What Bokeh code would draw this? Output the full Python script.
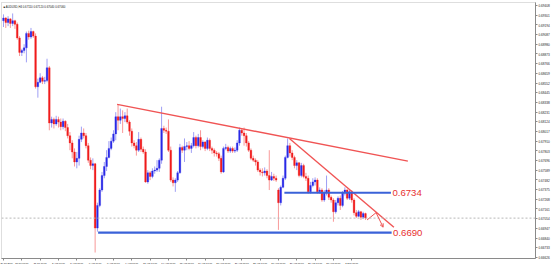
from bokeh.plotting import figure
from bokeh.models import Range1d, FixedTicker, Span, Label, Arrow, OpenHead, NumeralTickFormatter
from bokeh.embed import file_html
from bokeh.resources import INLINE

# ---- data (prices in pips, AUDUSD H4) ----
closes = [6927, 6922, 6926, 6921, 6924, 6920, 6905, 6889, 6891, 6894,
          6910, 6906, 6912, 6907, 6851, 6856, 6861, 6857, 6858, 6872,
          6811, 6815, 6810, 6815, 6812, 6807, 6813, 6806, 6797, 6789,
          6779, 6768, 6772, 6793, 6800, 6797, 6786, 6770, 6764, 6766,
          6695, 6720, 6737, 6753, 6763, 6773, 6783, 6791, 6799, 6818,
          6814, 6818, 6816, 6819, 6812, 6802, 6789, 6786, 6781, 6793,
          6782, 6779, 6746, 6756, 6752, 6758, 6759, 6761, 6770, 6805,
          6803, 6802, 6781, 6748, 6745, 6748, 6756, 6784, 6781, 6785,
          6786, 6783, 6786, 6795, 6786, 6795, 6785, 6790, 6783, 6792,
          6783, 6781, 6778, 6777, 6772, 6757, 6783, 6784, 6780, 6783,
          6780, 6781, 6789, 6803, 6800, 6797, 6789, 6781, 6772, 6770,
          6768, 6759, 6757, 6756, 6758, 6753, 6748, 6752, 6750, 6748,
          6723, 6740, 6750, 6773, 6786, 6778, 6773, 6764, 6767, 6753,
          6764, 6752, 6750, 6735, 6742, 6746, 6748, 6735, 6737, 6726,
          6734, 6737, 6729, 6726, 6713, 6723, 6728, 6720, 6734, 6737,
          6728, 6735, 6726, 6712, 6708, 6713, 6707, 6711, 6706]
highs = [6931, 6928, 6929, 6927, 6932, 6925, 6922, 6907, 6893, 6898,
         6912, 6913, 6916, 6913, 6910, 6860, 6866, 6863, 6862, 6882,
         6874, 6818, 6817, 6819, 6818, 6816, 6816, 6814, 6810, 6801,
         6792, 6783, 6779, 6797, 6807, 6805, 6800, 6789, 6773, 6772,
         6767, 6723, 6739, 6757, 6768, 6781, 6791, 6795, 6803, 6823,
         6832, 6827, 6825, 6823, 6827, 6814, 6805, 6792, 6790, 6801,
         6795, 6785, 6782, 6759, 6758, 6761, 6763, 6770, 6772, 6829,
         6808, 6806, 6815, 6785, 6751, 6750, 6758, 6788, 6786, 6794,
         6790, 6791, 6789, 6801, 6797, 6799, 6803, 6792, 6791, 6795,
         6794, 6785, 6783, 6780, 6779, 6775, 6785, 6788, 6786, 6785,
         6785, 6784, 6792, 6806, 6805, 6806, 6800, 6791, 6783, 6775,
         6772, 6770, 6761, 6761, 6762, 6760, 6781, 6757, 6755, 6753,
         6739, 6742, 6753, 6775, 6794, 6789, 6781, 6775, 6770, 6768,
         6767, 6766, 6756, 6753, 6746, 6750, 6751, 6750, 6740, 6739,
         6737, 6753, 6739, 6731, 6728, 6726, 6730, 6731, 6736, 6740,
         6738, 6737, 6737, 6728, 6715, 6715, 6714, 6713, 6712]
lows = [6917, 6916, 6918, 6916, 6918, 6915, 6903, 6885, 6885, 6888,
        6878, 6903, 6904, 6905, 6849, 6839, 6855, 6854, 6854, 6856,
        6803, 6806, 6805, 6808, 6806, 6803, 6804, 6802, 6794, 6781,
        6772, 6763, 6761, 6764, 6790, 6794, 6783, 6767, 6760, 6759,
        6668, 6691, 6718, 6735, 6750, 6758, 6772, 6781, 6789, 6792,
        6803, 6810, 6800, 6812, 6810, 6797, 6785, 6783, 6775, 6779,
        6779, 6777, 6745, 6744, 6748, 6750, 6755, 6757, 6757, 6766,
        6800, 6799, 6779, 6746, 6741, 6735, 6746, 6755, 6778, 6768,
        6781, 6781, 6778, 6784, 6783, 6784, 6781, 6783, 6780, 6781,
        6780, 6777, 6774, 6774, 6769, 6755, 6756, 6781, 6778, 6778,
        6778, 6778, 6779, 6786, 6797, 6786, 6785, 6779, 6770, 6768,
        6764, 6757, 6753, 6752, 6753, 6750, 6737, 6747, 6747, 6746,
        6693, 6720, 6739, 6748, 6772, 6774, 6770, 6761, 6759, 6751,
        6751, 6750, 6747, 6733, 6733, 6740, 6742, 6733, 6733, 6724,
        6724, 6731, 6726, 6723, 6702, 6711, 6720, 6715, 6718, 6731,
        6726, 6726, 6723, 6709, 6706, 6707, 6704, 6705, 6704]
first_open = 6924
gap_bar = 120
gap_open = 6737

time_tick_bars = [0, 8, 16, 24, 32, 40, 48, 56, 64, 72, 80, 88, 96, 104, 112, 120, 128, 136, 144, 152]
time_labels = ["29 Jul 2019", "30 Jul 08:00", "31 Jul 16:00", "2 Aug 00:00", "5 Aug 08:00",
               "6 Aug 16:00", "8 Aug 00:00", "9 Aug 08:00", "12 Aug 16:00", "14 Aug 00:00",
               "15 Aug 08:00", "16 Aug 16:00", "20 Aug 00:00", "21 Aug 08:00", "22 Aug 16:00",
               "26 Aug 00:00", "27 Aug 08:00", "28 Aug 16:00", "30 Aug 00:00", "2 Sep 08:00"]

price_ticks = [0.69408, 0.69301, 0.69194, 0.69087, 0.68980, 0.68873, 0.68766, 0.68659, 0.68552,
               0.68445, 0.68338, 0.68231, 0.68124, 0.68017, 0.67910, 0.67803, 0.67696, 0.67589,
               0.67482, 0.67375, 0.67268, 0.67161, 0.67054, 0.66947, 0.66840, 0.66733, 0.66626]

current_price = 0.67060
title_text = "AUDUSD,H4  0.67110 0.67120 0.67040 0.67060"

# analyst drawings (bar index, price)
resist_x = [49.6, 176.5]
resist_y = [0.68316, 0.67690]
fall_x = [124.8, 170.4]
fall_y = [0.67940, 0.66960]
level_values = [0.6734, 0.6690]
level_start = [122.6, 41.3]
level_end = [169.1, 169.4]
level_labels = ["0.6734", "0.6690"]
arrow_x = [158.7, 162.6, 165.7]
arrow_y = [0.67040, 0.67120, 0.66960]

# ---- build ----
S = 10000.0
opens = [first_open] + closes[:-1]
opens[gap_bar] = gap_open
n = len(closes)
xs = list(range(n))
o = [v / S for v in opens]
c = [v / S for v in closes]
h = [v / S for v in highs]
l = [v / S for v in lows]

BULL = "#2a2ae6"
BEAR = "#f01c1c"
RED_LINE = "#f05454"
BLUE_LINE = "#3a62d8"

cols = [BULL if cc >= oo else BEAR for oo, cc in zip(o, c)]
tops = [max(a, b) for a, b in zip(o, c)]
bots = [min(a, b) for a, b in zip(o, c)]

p = figure(width=552, height=267, x_range=Range1d(-0.87, 232.2), y_range=Range1d(0.66614, 0.69441),
           output_backend="svg", toolbar_location=None, y_axis_location="right",
           min_border_left=1, min_border_top=2, min_border_right=15, min_border_bottom=8)
p.background_fill_color = "white"
p.border_fill_color = "white"
p.outline_line_color = "#bdbdbd"
p.outline_line_dash = "1 1"
p.xgrid.visible = False
p.ygrid.visible = False

p.segment(xs, h, xs, l, line_color=cols, line_alpha=0.45, line_width=1)
p.vbar(x=xs, width=0.75, top=tops, bottom=bots, fill_color=cols, line_color=cols, line_width=0.3)

p.add_layout(Span(location=current_price, dimension="width", line_color="#b8b8b8",
                  line_dash="2 2", line_width=1))

p.line(resist_x, resist_y, line_color=RED_LINE, line_width=1.4)
p.line(fall_x, fall_y, line_color=RED_LINE, line_width=1.4)
for lv, xs0, xs1, lab in zip(level_values, level_start, level_end, level_labels):
    p.line([xs0, xs1], [lv, lv], line_color=BLUE_LINE, line_width=2.2)
    p.add_layout(Label(x=xs1, y=lv, x_offset=1.5, text=lab, text_color="#e8312f",
                       text_font="Liberation Sans", text_font_size="9.6px",
                       text_baseline="middle", text_align="left"))

p.line(arrow_x[:2], arrow_y[:2], line_color=RED_LINE, line_width=1)
p.add_layout(Arrow(x_start=arrow_x[1], y_start=arrow_y[1], x_end=arrow_x[2], y_end=arrow_y[2],
                   line_color=RED_LINE, line_width=1,
                   end=OpenHead(size=3.5, line_color=RED_LINE, line_width=1)))

# axes
ya = p.yaxis[0]
ya.ticker = FixedTicker(ticks=price_ticks)
ya.formatter = NumeralTickFormatter(format="0.00000")
ya.major_label_text_font = "Liberation Sans"
ya.major_label_text_font_size = "3.1px"
ya.major_label_text_color = "#222222"
ya.major_tick_out = 2
ya.major_tick_in = 0
ya.minor_tick_line_color = None
ya.major_label_standoff = 1
ya.axis_line_color = "#8a8a8a"
ya.major_tick_line_color = "#8a8a8a"

xa = p.xaxis[0]
xa.ticker = FixedTicker(ticks=time_tick_bars)
xa.major_label_overrides = {b: t for b, t in zip(time_tick_bars, time_labels)}
xa.major_label_text_font = "Liberation Sans"
xa.major_label_text_font_size = "2.4px"
xa.major_label_text_color = "#222222"
xa.major_label_text_align = "left"
xa.major_tick_out = 2
xa.major_tick_in = 0
xa.minor_tick_line_color = None
xa.major_label_standoff = 1
xa.axis_line_color = "#8a8a8a"
xa.major_tick_line_color = "#8a8a8a"

# current price tag on the price axis
p.add_layout(Label(x=232.2, y=current_price, x_offset=1, text="0.67060", text_color="white",
                   text_font="Liberation Sans", text_font_size="3.1px", text_baseline="middle",
                   text_align="left", background_fill_color="black", padding=1))

# header
p.add_layout(Label(x=-0.87, y=0.69441, x_offset=2, y_offset=-2, text="\u25a0 " + title_text,
                   text_color="#222222", text_font="Liberation Sans", text_font_size="2.8px",
                   text_baseline="top", text_align="left"))

open("out.html", "w").write(file_html(p, INLINE))
